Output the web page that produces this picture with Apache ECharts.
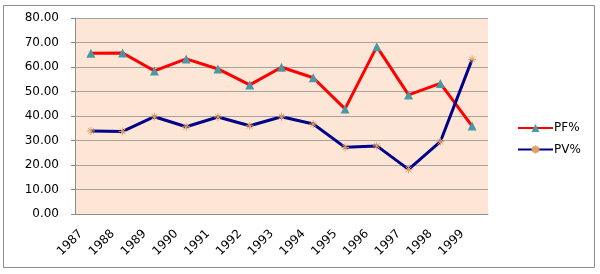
<!DOCTYPE html>
<html>
<head>
<meta charset="utf-8">
<script src="https://cdn.jsdelivr.net/npm/echarts@6/dist/echarts.min.js"></script>
<style>
  html, body { margin: 0; padding: 0; background: #fff; }
  #chart { width: 600px; height: 274px; }
</style>
</head>
<body>
<div id="chart"></div>
<script>
const years = ['1987', '1988', '1989', '1990', '1991', '1992', '1993', '1994', '1995', '1996', '1997', '1998', '1999'];
const pf = [65.6, 65.7, 58.4, 63.3, 59.2, 52.7, 59.9, 55.6, 42.9, 68.3, 48.6, 53.3, 35.9];
const pv = [33.9, 33.7, 39.7, 35.6, 39.6, 36.0, 39.7, 36.7, 27.2, 27.8, 18.2, 29.5, 63.1];

const chart = echarts.init(document.getElementById('chart'));
const font = 'DejaVu Sans';
// asterisk-like marker for PV%
const star = 'path://M5,0 L5,10 M0,5 L10,5 M1.5,1.5 L8.5,8.5 M8.5,1.5 L1.5,8.5';

chart.setOption({
  animation: false,
  textStyle: { fontFamily: font },
  graphic: [{
    type: 'rect',
    shape: { x: 3.5, y: 5.5, width: 591, height: 262 },
    style: { fill: 'none', stroke: '#8c8c8c', lineWidth: 1 },
    z: -10
  }],
  grid: {
    left: 75,
    right: 112,
    top: 18,
    bottom: 60,
    show: true,
    backgroundColor: '#fde6d6',
    borderWidth: 0
  },
  legend: {
    orient: 'vertical',
    left: 512,
    top: 117,
    itemGap: 9,
    itemWidth: 35,
    itemHeight: 10,
    textStyle: { fontSize: 12, color: '#000', fontFamily: font, padding: [0, 0, 0, -4] },
    data: ['PF%', 'PV%']
  },
  xAxis: {
    type: 'category',
    data: years,
    boundaryGap: true,
    axisLine: { lineStyle: { color: '#8c8c8c' } },
    axisTick: { lineStyle: { color: '#8c8c8c' }, length: 4 },
    axisLabel: { rotate: 45, fontSize: 12, color: '#000', margin: 8, padding: [0, 14, 0, 0] }
  },
  yAxis: {
    type: 'value',
    min: 0,
    max: 80,
    interval: 10,
    axisLine: { show: true, lineStyle: { color: '#8c8c8c' } },
    axisTick: { show: true, lineStyle: { color: '#8c8c8c' }, length: 4 },
    axisLabel: { fontSize: 12, color: '#000', margin: 16, formatter: v => v.toFixed(2) },
    splitLine: { lineStyle: { color: '#a8a29e' } }
  },
  series: [
    {
      name: 'PF%',
      type: 'line',
      data: pf,
      symbol: 'triangle',
      symbolSize: 9,
      itemStyle: { color: '#4a98a4' },
      lineStyle: { color: '#ff0000', width: 3 }
    },
    {
      name: 'PV%',
      type: 'line',
      data: pv,
      symbol: star,
      symbolSize: 8,
      itemStyle: { color: 'none', borderColor: '#e0a060', borderWidth: 1 },
      lineStyle: { color: '#00008b', width: 3 }
    }
  ]
});
</script>
</body>
</html>
